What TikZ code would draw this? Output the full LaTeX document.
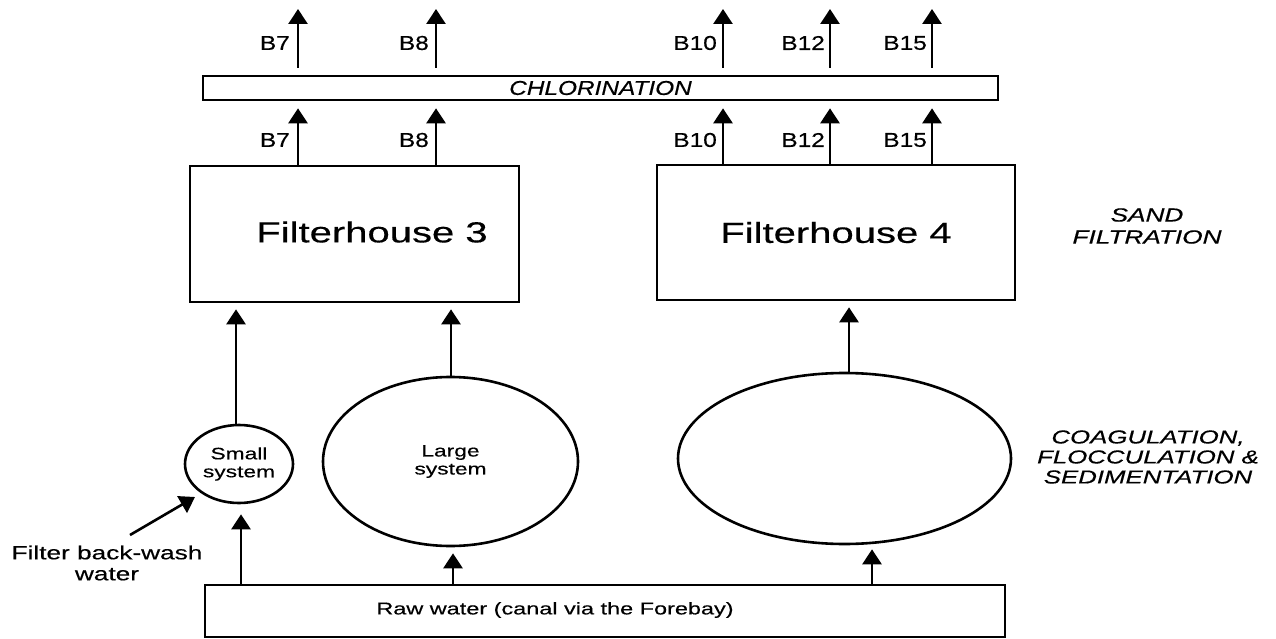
\documentclass[tikz,border=0pt]{standalone}
\usepackage{fontspec}
\setmainfont{Liberation Sans}
\newfontfamily\wf[FakeStretch=1.38,FakeBold=0.4]{Liberation Sans}
\newfontfamily\wfc[FakeStretch=1.22,FakeBold=0.4]{Liberation Sans}
\usetikzlibrary{arrows.meta,shapes.geometric,calc}
\begin{document}
\begin{tikzpicture}[x=1pt,y=-1pt,
  lw/.style={line width=2.6pt},
  box/.style={draw, lw, rectangle, inner sep=0pt},
  oval/.style={draw, lw, ellipse, inner sep=0pt, align=center, font=\wf\fontsize{16.5}{18}\selectfont},
  arr/.style={lw, -{Triangle[length=15pt,width=19pt]}},
  blbl/.style={anchor=east, inner sep=0pt, font=\wfc\fontsize{20}{22}\selectfont},
  side/.style={align=center, inner sep=0pt, font=\wf\itshape\fontsize{19}{22}\selectfont},
  bigtxt/.style={inner sep=0pt, font=\wf\fontsize{29}{32}\selectfont},
]
\useasboundingbox (0,0) rectangle (1276,639);
\fill[white] (0,0) rectangle (1276,639);

% coordinates for column positions
\coordinate (c7) at (298,0);
\coordinate (c8) at (436,0);
\coordinate (c10) at (723,0);
\coordinate (c12) at (830,0);
\coordinate (c15) at (932,0);
\coordinate (tops) at (0,9);

% boxes
\node[box, minimum width=795pt, minimum height=24pt, font=\wfc\itshape\fontsize{20}{22}\selectfont] (chl) at (600.5,88) {CHLORINATION};
\node[box, minimum width=329pt, minimum height=136pt] (fh3) at (354.5,234) {};
\node[bigtxt] (fh3t) at (372,232) {Filterhouse 3};
\node[box, minimum width=358pt, minimum height=135pt, bigtxt] (fh4) at (836,232.5) {Filterhouse 4};
\node[box, minimum width=800pt, minimum height=52pt] (raw) at (605,611) {};
\node[inner sep=0pt, font=\wf\fontsize{17}{19}\selectfont] (rawt) at (555,610) {Raw water (canal via the Forebay)};

% ellipses
\node[oval, minimum width=108pt, minimum height=78pt] (sm) at (239,464) {Small\\system};
\node[oval, minimum width=255pt, minimum height=169pt] (lg) at (450.5,461.5) {Large\\system};
\node[draw, lw, ellipse, inner sep=0pt, minimum width=333pt, minimum height=171pt] (rg) at (844.5,458.5) {};

% side labels
\node[side] (sf) at (1147,226) {SAND\\FILTRATION};
\node[side, font=\wf\itshape\fontsize{18.7}{20}\selectfont] (cfs) at (1148,457) {COAGULATION,\\FLOCCULATION \&\\SEDIMENTATION};

% back-wash
\node[align=center, inner sep=0pt, font=\wf\fontsize{19}{21}\selectfont] (bw) at (107,563) {Filter back-wash\\water};
\coordinate (bws) at (130,535);
\coordinate (bwe) at (195,497);
\draw[arr] (bws) -- (bwe);

% B arrows and labels
\foreach \c in {c7, c8, c10, c12, c15}{
  \draw[arr] ([yshift=7pt]chl.north -| \c) -- (tops -| \c);
}
\draw[arr] (fh3.north -| c7) -- ([yshift=-7pt]chl.south -| c7);
\draw[arr] (fh3.north -| c8) -- ([yshift=-7pt]chl.south -| c8);
\draw[arr] (fh4.north -| c10) -- ([yshift=-7pt]chl.south -| c10);
\draw[arr] (fh4.north -| c12) -- ([yshift=-7pt]chl.south -| c12);
\draw[arr] (fh4.north -| c15) -- ([yshift=-7pt]chl.south -| c15);

\node[blbl] (u7) at (290,43) {B7};
\node[blbl] (u8) at (429,43) {B8};
\node[blbl] (u10) at (717,43) {B10};
\node[blbl] (u12) at (825,43) {B12};
\node[blbl] (u15) at (927,43) {B15};
\node[blbl] (l7) at (290,140) {B7};
\node[blbl] (l8) at (429,140) {B8};
\node[blbl] (l10) at (717,140) {B10};
\node[blbl] (l12) at (825,140) {B12};
\node[blbl] (l15) at (927,140) {B15};

% vertical flow arrows
\coordinate (a1) at (236,0);
\coordinate (a2) at (451,0);
\coordinate (a3) at (849,0);
\coordinate (a4) at (241,0);
\coordinate (a5) at (453,0);
\coordinate (a6) at (872,0);
\draw[arr, shorten >=6pt] (sm.north -| a1) -- (fh3.south -| a1);
\draw[arr, shorten >=6pt] (lg.north -| a2) -- (fh3.south -| a2);
\draw[arr, shorten >=6pt] (rg.north -| a3) -- (fh4.south -| a3);
\draw[arr, shorten >=10pt] (raw.north -| a4) -- (sm.south -| a4);
\draw[arr, shorten >=6pt] (raw.north -| a5) -- (lg.south -| a5);
\draw[arr, shorten >=4pt] (raw.north -| a6) -- (rg.south -| a6);
\end{tikzpicture}
\end{document}
